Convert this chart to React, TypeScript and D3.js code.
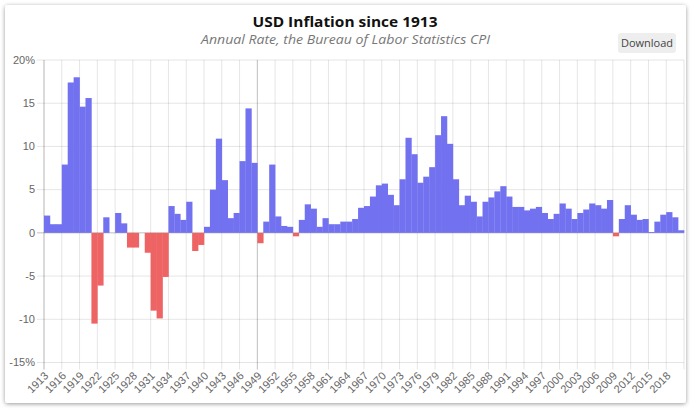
import React from 'react';
import * as d3 from 'd3';

const years: number[] = d3.range(1913, 2021);
const inflation: number[] = [
  2.0, 1.0, 1.0, 7.9, 17.4, 18.0, 14.6, 15.6,
  -10.5, -6.1, 1.8, 0.0, 2.3, 1.1, -1.7, -1.7, 0.0, -2.3,
  -9.0, -9.9, -5.1, 3.1, 2.2, 1.5, 3.6, -2.1, -1.4, 0.7,
  5.0, 10.9, 6.1, 1.7, 2.3, 8.3, 14.4, 8.1, -1.2, 1.3,
  7.9, 1.9, 0.8, 0.7, -0.4, 1.5, 3.3, 2.8, 0.7, 1.7,
  1.0, 1.0, 1.3, 1.3, 1.6, 2.9, 3.1, 4.2, 5.5, 5.7,
  4.4, 3.2, 6.2, 11.0, 9.1, 5.8, 6.5, 7.6, 11.3, 13.5,
  10.3, 6.2, 3.2, 4.3, 3.6, 1.9, 3.6, 4.1, 4.8, 5.4,
  4.2, 3.0, 3.0, 2.6, 2.8, 3.0, 2.3, 1.6, 2.2, 3.4,
  2.8, 1.6, 2.3, 2.7, 3.4, 3.2, 2.8, 3.8, -0.4, 1.6,
  3.2, 2.1, 1.5, 1.6, 0.1, 1.3, 2.1, 2.4, 1.8, 0.3,
];
const xTickLabels: string[] = [
  '1913', '1916', '1919', '1922', '1925', '1928', '1931', '1934', '1937', '1940',
  '1943', '1946', '1949', '1952', '1955', '1958', '1961', '1964', '1967', '1970',
  '1973', '1976', '1979', '1982', '1985', '1988', '1991', '1994', '1997', '2000',
  '2003', '2006', '2009', '2012', '2015', '2018',
];
const yTicks: number[] = [20, 15, 10, 5, 0, -5, -10, -15];
const yTickLabels: string[] = ['20%', '15', '10', '5', '0', '-5', '-10', '-15%'];

const title = 'USD Inflation since 1913';
const subtitle = 'Annual Rate, the Bureau of Labor Statistics CPI';

const W = 692;
const H = 411;
const left = 44;
const right = 684;
const top = 60;
const bottom = 362.5;

export default function App() {
  const x = d3.scaleBand<number>().domain(years).range([left, right]).padding(0);
  const y = d3.scaleLinear().domain([-15, 20]).range([bottom, top]);
  const labelFont = '"Liberation Sans", Arial, sans-serif';
  const tickLen = 7;

  return (
    <div style={{ position: 'absolute', left: 0, top: 0, width: W, height: H, background: '#fff' }}>
      <svg width={W} height={H} style={{ display: 'block' }}>
        <defs>
          <filter id="shadow" x="-5%" y="-5%" width="110%" height="110%">
            <feDropShadow dx="0" dy="1" stdDeviation="2.2" floodColor="#000" floodOpacity="0.4" />
          </filter>
        </defs>
        <rect x={5} y={5} width={681} height={398} rx={3} fill="#fff" filter="url(#shadow)" />

        <text x={345} y={26.5} textAnchor="middle" fontFamily='"Open Sans", sans-serif' fontWeight="bold"
          fontSize={14.5} fill="#111" textLength={185} lengthAdjust="spacingAndGlyphs">{title}</text>
        <text x={345.5} y={44} textAnchor="middle" fontFamily='"Open Sans", sans-serif' fontStyle="italic"
          fontSize={12.5} fill="#777" textLength={289} lengthAdjust="spacingAndGlyphs">{subtitle}</text>

        <rect x={618} y={33} width={58} height={20} rx={3} fill="#eeeeee" />
        <text x={647} y={47} textAnchor="middle" fontFamily='"Open Sans", sans-serif' fontSize={11}
          fill="#444">Download</text>

        {yTicks.map((t, i) => (
          <g key={'y' + i}>
            <line x1={left - tickLen} x2={right} y1={y(t)} y2={y(t)}
              stroke={t === 0 ? 'rgba(0,0,0,0.25)' : 'rgba(0,0,0,0.1)'} strokeWidth={1} />
            <text x={left - 9} y={y(t)} dy="0.35em" textAnchor="end" fontFamily={labelFont}
              fontSize={11} fill="#666">{yTickLabels[i]}</text>
          </g>
        ))}

        {xTickLabels.map((lab, i) => {
          const xx = x(+lab)!;
          return (
            <g key={'x' + i}>
              <line x1={xx} x2={xx} y1={top} y2={bottom + tickLen}
                stroke={lab === '1949' ? 'rgba(0,0,0,0.25)' : 'rgba(0,0,0,0.1)'} strokeWidth={1} />
              <text transform={`translate(${xx + 5},${bottom + 14}) rotate(-45)`} textAnchor="end"
                fontFamily={labelFont} fontSize={11} fill="#666">{lab}</text>
            </g>
          );
        })}
        <line x1={right} x2={right} y1={top} y2={bottom + tickLen} stroke="rgba(0,0,0,0.1)" />
        <line x1={left} x2={left} y1={top} y2={bottom + tickLen} stroke="rgba(0,0,0,0.2)" />

        {years.map((yr, i) => {
          const v = inflation[i];
          const y0 = y(0);
          const y1 = y(v);
          return (
            <rect key={yr} x={x(yr)!} width={x.bandwidth() + 0.3} y={Math.min(y0, y1)}
              height={Math.abs(y1 - y0)} fill={v < 0 ? '#ee6363' : '#7272f0'} />
          );
        })}
      </svg>
    </div>
  );
}
